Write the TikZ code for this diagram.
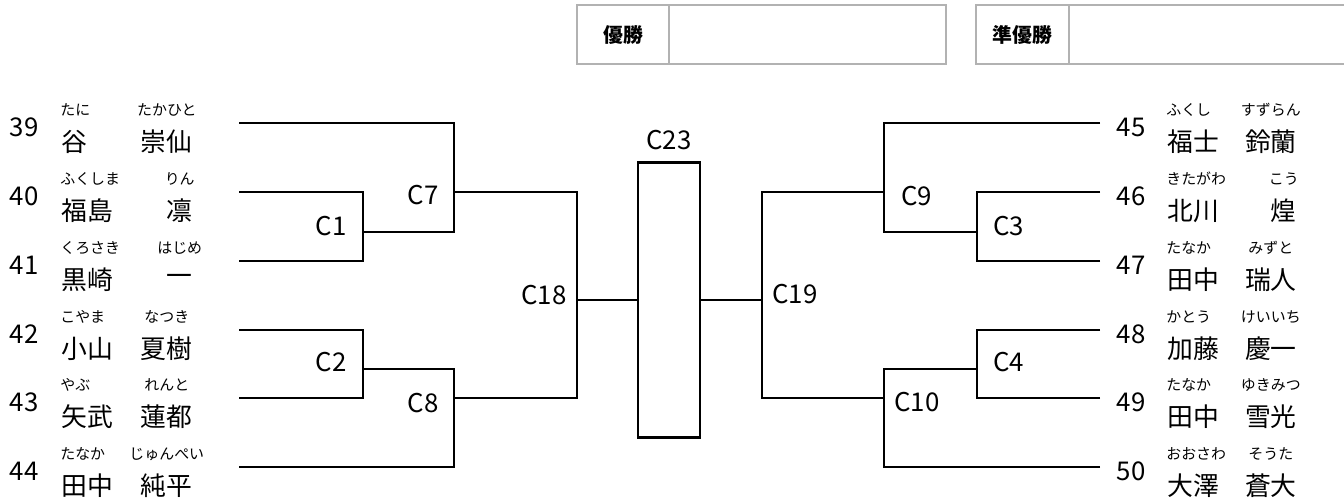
\documentclass[tikz,border=0pt]{standalone}
\usepackage{fontspec}
\setmainfont{Noto Sans CJK JP}
\usetikzlibrary{positioning,calc}

\begin{document}
\begin{tikzpicture}
[x=0.02cm, y=-0.02cm,
bracket/.style = {draw, line width=1.2pt},
num/.style = {inner sep=0pt, font=\fontsize{14.7pt}{16pt}\selectfont},
kanji/.style = {inner sep=0pt, font=\fontsize{14.7pt}{16pt}\selectfont},
kana/.style = {inner sep=0pt, font=\fontsize{8.5pt}{9pt}\selectfont},
match/.style = {inner sep=0pt, font=\fontsize{14.7pt}{16pt}\selectfont},
head/.style = {inner sep=0pt, font=\fontsize{11.3pt}{12pt}\selectfont\bfseries},
cell/.style = {draw=black!30, line width=0.6pt}]
\useasboundingbox (0,0) rectangle (1344,497);

% winner boxes
\draw[cell] (577,5) rectangle (946,64) (669,5) -- (669,64);
\draw[cell] (976,5) rectangle (1345,64) (1069,5) -- (1069,64);
\node[head] (win) at (623,34.5) {優勝};
\node[head] (second) at (1022.5,34.5) {準優勝};

% left block
\foreach \n/\y/\fk/\gk/\fn/\gn in {
39/123/たに/たかひと/谷/崇仙,
40/192/ふくしま/りん/福島/凛,
41/261/くろさき/はじめ/黒崎/一,
42/330/こやま/なつき/小山/夏樹,
43/398/やぶ/れんと/矢武/蓮都,
44/467/たなか/じゅんぺい/田中/純平}
{
\node[num] (\n) at (24,\y+4) {\n};
\node[kanji, anchor=west] (f\n) at (61,\y+19) {\fn};
\node[kanji, anchor=east] (g\n) at (193,\y+19) {\gn};
\node[kana, anchor=west] (fk\n) at (60,\y-13) {\fk};
\node[kana] (gk\n) at (g\n |- fk\n) {\gk};
\coordinate (s\n) at (239,\y);
}

% right block
\foreach \n/\y/\fk/\gk/\fn/\gn in {
45/123/ふくし/すずらん/福士/鈴蘭,
46/192/きたがわ/こう/北川/煌,
47/261/たなか/みずと/田中/瑞人,
48/330/かとう/けいいち/加藤/慶一,
49/398/たなか/ゆきみつ/田中/雪光,
50/467/おおさわ/そうた/大澤/蒼大}
{
\node[num] (\n) at (1131,\y+4) {\n};
\node[kanji, anchor=west] (f\n) at (1167,\y+19) {\fn};
\node[kanji, anchor=east] (g\n) at (1297,\y+19) {\gn};
\node[kana, anchor=west] (fk\n) at (1166,\y-13) {\fk};
\node[kana] (gk\n) at (g\n |- fk\n) {\gk};
\coordinate (s\n) at (1100,\y);
}

\coordinate (m1) at (363,231.7);
\coordinate (m2) at (363,369);
\coordinate (m7) at (454,192);
\coordinate (m8) at (454,398);
\coordinate (m18) at (577,300);
\coordinate (m19) at (762,300);
\coordinate (m9) at (884,192);
\coordinate (m10) at (884,398);
\coordinate (m3) at (977,232);
\coordinate (m4) at (977,369);

\node[draw, line width=1.2pt, inner sep=0pt, minimum width=1.24cm,
  minimum height=5.5cm] (c23) at (669,300) {};

\path[bracket]
(s40) -| (m1) (s41) -| (m1)
(s42) -| (m2) (s43) -| (m2)
(s39) -| (m7) (m1) -| (m7)
(m2) -| (m8) (s44) -| (m8)
(m7) -| (m18) (m8) -| (m18)
(m18) -- (c23)
(c23) -- (m19)
(m9) -| (m19) (m10) -| (m19)
(s45) -| (m9) (m3) -| (m9)
(s46) -| (m3) (s47) -| (m3)
(s48) -| (m4) (s49) -| (m4)
(m4) -| (m10) (s50) -| (m10)
;

\node[match, anchor=east] (c1) at ($(m1)+(-16,-6)$) {C1};
\node[match, anchor=east] (c2) at ($(m2)+(-16,-7)$) {C2};
\node[match, anchor=east] (c7) at ($(m7)+(-15,3)$) {C7};
\node[match, anchor=east] (c8) at ($(m8)+(-15,5)$) {C8};
\node[match, anchor=east] (c18) at ($(m18)+(-10,-5)$) {C18};
\node[match] (c23l) at ($(c23.north)+(0,-21)$) {C23};
\node[match, anchor=west] (c19) at ($(m19)+(10,-6)$) {C19};
\node[match, anchor=west] (c9) at ($(m9)+(17,4)$) {C9};
\node[match, anchor=west] (c10) at ($(m10)+(10,4)$) {C10};
\node[match, anchor=west] (c3) at ($(m3)+(16,-6)$) {C3};
\node[match, anchor=west] (c4) at ($(m4)+(16,-7)$) {C4};

\end{tikzpicture}
\end{document}
